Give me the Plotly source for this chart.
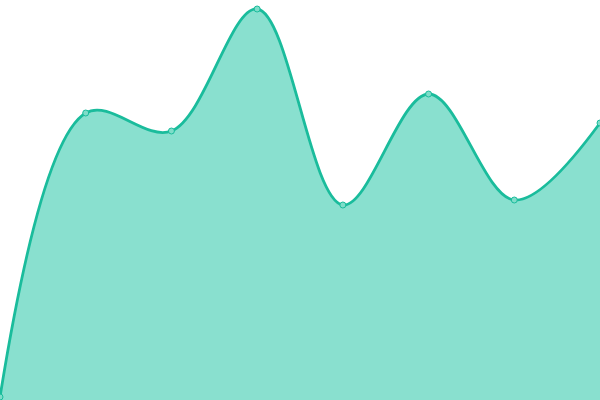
import plotly.graph_objects as go

# category positions and series values
x_vals = [0, 1, 2, 3, 4, 5, 6, 7]
y_vals = [3, 287, 269, 391, 195, 306, 200, 277]

fig = go.Figure()

fig.add_trace(
    go.Scatter(
        x=x_vals,
        y=y_vals,
        mode="lines+markers",
        line=dict(color="#1abc9c", width=2.8, shape="spline", smoothing=1),
        marker=dict(size=6, color="#7fddc9", line=dict(color="#1abc9c", width=1)),
        fill="tozeroy",
        fillcolor="#89e0cf",
        cliponaxis=False,
        showlegend=False,
        hoverinfo="skip",
    )
)

fig.update_layout(
    width=600,
    height=400,
    margin=dict(l=0, r=0, t=0, b=0),
    paper_bgcolor="white",
    plot_bgcolor="white",
)
fig.update_xaxes(visible=False, range=[0, 7])
fig.update_yaxes(visible=False, range=[0, 400])

# page body has a default 8px margin, drop it so the chart fills the window
fig.write_html(
    "out.html",
    config={"displayModeBar": False},
    post_script="document.body.style.margin='0';",
)
